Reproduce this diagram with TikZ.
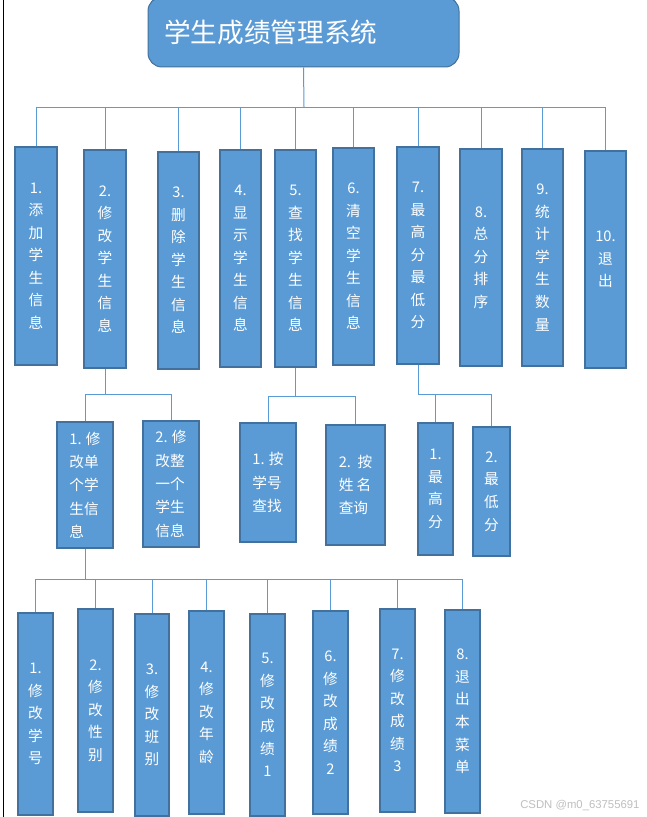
\documentclass[tikz,border=0pt]{standalone}
\usepackage{fontspec}
\newfontfamily\cjk{Noto Sans CJK SC}
\newfontfamily\wmfont{Liberation Sans}
\definecolor{fillb}{HTML}{5B9BD5}
\definecolor{edgeb}{HTML}{41719C}
\tikzset{
  box/.style={draw=edgeb, fill=fillb, line width=1.5pt, text=white, inner sep=0pt,
    align=center, font=\cjk\fontsize{11}{16.9}\selectfont},
  boxtwo/.style={box, align=left, font=\cjk\fontsize{11}{17.5}\selectfont},
  conn/.style={draw=fillb, line width=0.75pt},
}
\newcommand\mybox[7]{%
  \node[#1, minimum width={(#5-#3-2)*0.75pt}, minimum height={(#6-#4-2)*0.75pt}]
    (#2) at ({(#3+#5)/2},{(#4+#6)/2}) {#7};}
\begin{document}
\begin{tikzpicture}[x=0.75pt,y=-0.75pt]
\useasboundingbox (0,0) rectangle (646,817);
\fill[white] (0,0) rectangle (646,817);
\draw[black, line width=0.75pt] (3,0) -- (3,817);

% title
\node[draw=edgeb, fill=fillb, line width=0.75pt, rounded corners=10.5pt, text=white,
  minimum height=52.5pt, text width=209.25pt, inner xsep=12pt, inner ysep=0pt,
  align=left, font=\cjk\fontsize{20}{22}\selectfont] (t) at (303.5,32) {学生成绩管理系统};

% row 1
\mybox{box}{a1}{14}{146}{58}{366}{1.\\添\\加\\学\\生\\信\\息}
\mybox{box}{a2}{83}{149}{127}{369}{2.\\修\\改\\学\\生\\信\\息}
\mybox{box}{a3}{157}{151}{200}{370}{3.\\删\\除\\学\\生\\信\\息}
\mybox{box}{a4}{219}{149}{262}{368}{4.\\显\\示\\学\\生\\信\\息}
\mybox{box}{a5}{274}{149}{317}{368}{5.\\查\\找\\学\\生\\信\\息}
\mybox{box}{a6}{332}{147}{375}{366}{6.\\清\\空\\学\\生\\信\\息}
\mybox{box}{a7}{396}{146}{440}{365}{7.\\最\\高\\分\\最\\低\\分}
\mybox{box}{a8}{459}{148}{503}{367}{8.\\总\\分\\排\\序}
\mybox{box}{a9}{521}{148}{564}{367}{9.\\统\\计\\学\\生\\数\\量}
\mybox{box}{a10}{584}{150}{627}{369}{10.\\退\\出}

% row 2
\mybox{boxtwo}{b21}{56}{421}{114}{549}{1. 修\\改单\\个学\\生信\\息}
\mybox{boxtwo}{b22}{142}{420}{200}{548}{2. 修\\改整\\一个\\学生\\信息}
\mybox{boxtwo}{b51}{239}{422}{297}{543}{1. 按\\学号\\查找}
\mybox{boxtwo}{b52}{325}{424}{386}{546}{2.~~按\\姓~名\\查询}
\mybox{box}{b71}{417}{422}{454}{556}{1.\\最\\高\\分}
\mybox{box}{b72}{472}{426}{511}{557}{2.\\最\\低\\分}

% row 3
\mybox{box}{c1}{17}{612}{54}{816}{1.\\修\\改\\学\\号}
\mybox{box}{c2}{77}{608}{114}{813}{2.\\修\\改\\性\\别}
\mybox{box}{c3}{134}{613}{170}{817}{3.\\修\\改\\班\\别}
\mybox{box}{c4}{188}{610}{225}{815}{4.\\修\\改\\年\\龄}
\mybox{box}{c5}{249}{613}{286}{817}{5.\\修\\改\\成\\绩\\1}
\mybox{box}{c6}{312}{610}{349}{815}{6.\\修\\改\\成\\绩\\2}
\mybox{box}{c7}{379}{608}{416}{813}{7.\\修\\改\\成\\绩\\3}
\mybox{box}{c8}{444}{609}{481}{814}{8.\\退\\出\\本\\菜\\单}

% connectors
\coordinate (j0) at (304,107);
\draw[conn] (t.south) -- (j0);
\foreach \n in {a1,a2,a3,a4,a5,a6,a7,a8,a9,a10}
  \draw[conn] (\n.north) |- (j0);

\coordinate (j2) at (105,394);
\draw[conn] (a2.south) -- (j2);
\draw[conn] (b21.north) |- (j2);
\draw[conn] (b22.north) |- (j2);

\coordinate (j5) at (295.5,396);
\draw[conn] (a5.south) -- (j5);
\draw[conn] (b51.north) |- (j5);
\draw[conn] (b52.north) |- (j5);

\coordinate (j7) at (418,394);
\draw[conn] (a7.south) -- (j7);
\draw[conn] (b71.north) |- (j7);
\draw[conn] (b72.north) |- (j7);

\coordinate (j21) at (85,579);
\draw[conn] (b21.south) -- (j21);
\foreach \n in {c1,c2,c3,c4,c5,c6,c7,c8}
  \draw[conn] (\n.north) |- (j21);

% watermark
\node[text=black!25, font=\wmfont\fontsize{8.5}{10}\selectfont, anchor=west, inner sep=0pt]
  (wm) at (520,806) {CSDN @m0\_63755691};
\end{tikzpicture}
\end{document}
